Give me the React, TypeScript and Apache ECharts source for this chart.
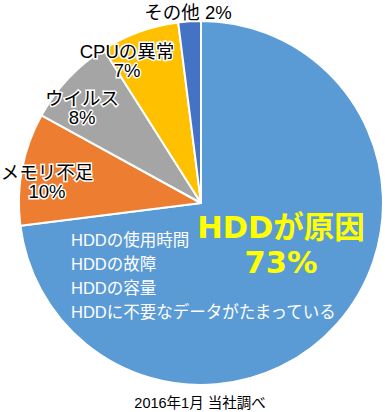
import React, { useEffect, useRef } from "react";
import * as echarts from "echarts";

const categories = ["HDDが原因", "メモリ不足", "ウイルス", "CPUの異常", "その他"];
const values = [73, 10, 8, 7, 2];
const colors = ["#5B9BD5", "#ED7D31", "#A5A5A5", "#FFC000", "#4472C4"];
const hddReasons = ["HDDの使用時間", "HDDの故障", "HDDの容量", "HDDに不要なデータがたまっている"];
const caption = "2016年1月 当社調べ";

const FONT = '"Liberation Sans", "Noto Sans CJK JP", sans-serif';
const BIG_FONT = '"DejaVu Sans", "Noto Sans CJK JP", sans-serif';

export default function App() {
  const ref = useRef<HTMLDivElement>(null);
  useEffect(() => {
    if (!ref.current) return;
    const chart = echarts.init(ref.current, null, { renderer: "svg" });
    const outlined = (text: string, x: number, y: number) => ({
      type: "text",
      x,
      y,
      style: {
        text,
        fill: "#000",
        stroke: "#fff",
        lineWidth: 3,
        fontSize: 18.5,
        lineHeight: 19,
        fontFamily: FONT,
        align: "center",
        verticalAlign: "middle",
      },
      z: 10,
    });
    const graphics: any[] = [
      outlined(`${categories[1]}\n${values[1]}%`, 47, 182),
      outlined(`${categories[2]}\n${values[2]}%`, 82, 108),
      outlined(`${categories[3]}\n${values[3]}%`, 127, 61),
      outlined(`${categories[4]} ${values[4]}%`, 188, 12),
      {
        type: "text",
        x: 281,
        y: 244.5,
        z: 10,
        style: {
          text: `HDDが原因\n${values[0]}%`,
          fill: "#FFFF00",
          fontSize: 30.5,
          lineHeight: 35,
          fontWeight: "bold",
          fontFamily: BIG_FONT,
          align: "center",
          verticalAlign: "middle",
        },
      },
      ...hddReasons.map((t, i) => ({
        type: "text",
        x: 71,
        y: 240 + i * 24,
        z: 10,
        style: {
          text: t,
          fill: "#fff",
          fontSize: 16.5,
          fontFamily: FONT,
          align: "left",
          verticalAlign: "middle",
        },
      })),
      {
        type: "text",
        x: 200,
        y: 403,
        z: 10,
        style: {
          text: caption,
          fill: "#000",
          fontSize: 14.5,
          fontFamily: FONT,
          align: "center",
          verticalAlign: "middle",
        },
      },
    ];
    chart.setOption({
      animation: false,
      series: [
        {
          type: "pie",
          center: [201, 203],
          radius: [0, 182],
          startAngle: 90,
          clockwise: true,
          label: { show: false },
          labelLine: { show: false },
          emphasis: { disabled: true },
          itemStyle: { borderColor: "#fff", borderWidth: 2 },
          data: categories.map((name, i) => ({
            name,
            value: values[i],
            itemStyle: { color: colors[i] },
          })),
        },
      ],
      graphic: graphics,
    });
    return () => chart.dispose();
  }, []);
  return (
    <div
      ref={ref}
      style={{ position: "fixed", left: 0, top: 0, width: 385, height: 412, background: "#fff" }}
    />
  );
}
